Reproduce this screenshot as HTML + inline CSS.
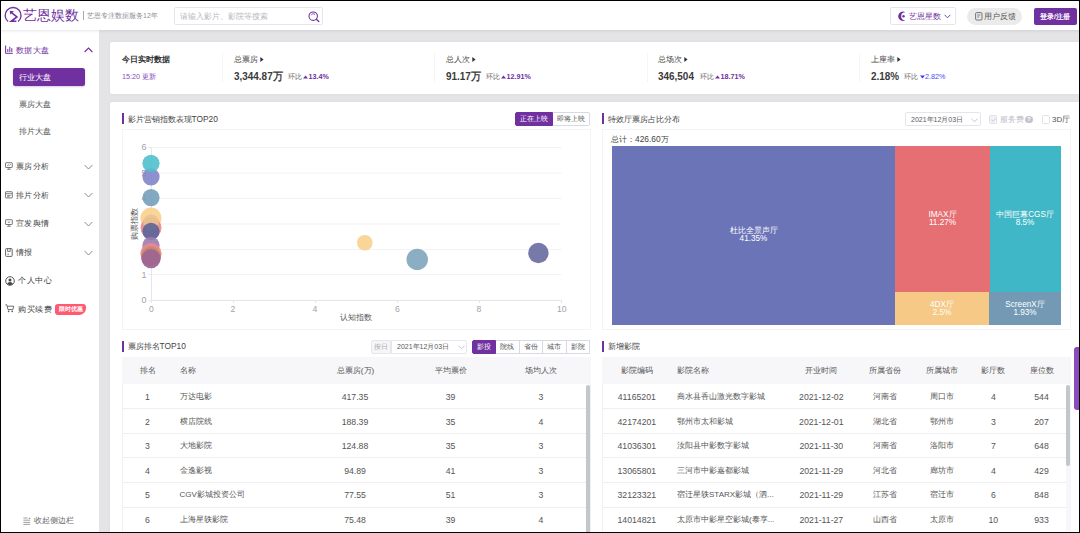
<!DOCTYPE html>
<html lang="zh">
<head>
<meta charset="utf-8">
<title>艺恩娱数</title>
<style>
*{box-sizing:border-box;margin:0;padding:0}
html,body{width:1080px;height:533px;overflow:hidden;background:#e4e4e6;font-family:"Liberation Sans",sans-serif;color:#444}
#app{position:absolute;left:0;top:0;width:1080px;height:533px;overflow:hidden;background:#e4e4e6}
.a{position:absolute}
.t{position:absolute;white-space:nowrap;line-height:12px;height:12px;font-size:8.5px;color:#555}
.c{transform:translateX(-50%);text-align:center}
.p{color:#7030a0}
.w{background:#fff}
.bar{position:absolute;width:2px;height:11px;background:#7030a0}
svg{position:absolute;overflow:visible}
.hl{position:absolute;height:1px;background:#efeff1}
.btn{position:absolute;height:13.5px;border:1px solid #d6d9e6;background:#fff;font-size:7px;line-height:11.5px;text-align:center;color:#555;white-space:nowrap;overflow:hidden}
.btn.on{background:#7030a0;border-color:#7030a0;color:#fff}
</style>
</head>
<body>
<div id="app">

<!-- HEADER -->
<div class="a w" id="sidebar" style="left:0;top:30px;width:99px;height:502px"></div>
<div class="a w" id="header" style="left:0;top:0;width:1080px;height:30px;box-shadow:0 1px 3px rgba(60,60,110,.13)"></div>
<svg style="left:4px;top:6px" width="19" height="17" viewBox="0 0 19 17"><path d="M4.1 15.6 A7.95 7.95 0 1 1 14.1 15.6" fill="none" stroke="#7030a0" stroke-width="1.35"/><path d="M7.6 6.7 L12.9 11 L7.2 15.3 H12.4" fill="none" stroke="#7030a0" stroke-width="1.6" stroke-linejoin="miter"/><path d="M5.7 4.8 L10 5.3 L6.3 8.5Z" fill="#7030a0"/></svg>
<div class="t p" id="logo" style="left:23px;top:6px;font-size:14px;line-height:18px;height:18px;letter-spacing:0">艺恩娱数</div>
<div class="a" style="left:83px;top:11px;width:1px;height:9px;background:#aaa"></div>
<div class="t" style="left:87px;top:9.5px;font-size:7px;color:#8e8e94">艺恩专注数据服务12年</div>

<div class="a w" id="search" style="left:174px;top:7.3px;width:149px;height:18px;border:1px solid #e6e6ec;border-radius:2px"></div>
<div class="t" style="left:180px;top:10.5px;font-size:7.5px;color:#b8b8be">请输入影片、影院等搜索</div>
<svg style="left:308px;top:11px" width="12" height="12" viewBox="0 0 12 12"><circle cx="5.2" cy="5.2" r="4.2" fill="none" stroke="#7030a0" stroke-width="1.1"/><path d="M8.3 8.3 L10.8 10.6" stroke="#7030a0" stroke-width="1.3" stroke-linecap="round"/><path d="M3.2 4 A2.6 2.6 0 0 1 7 3.4" fill="none" stroke="#7030a0" stroke-width=".8"/></svg>

<div class="a w" style="left:889.5px;top:6.8px;width:66px;height:18.5px;border:1px solid #e6e6ec;border-radius:2px"></div>
<svg style="left:896.8px;top:11px" width="10.5" height="10.5" viewBox="0 0 10 10"><path d="M7.9 1.1 A4.5 4.5 0 1 0 7.9 8.9 A3.7 3.7 0 1 1 7.9 1.1Z" fill="#7030a0"/><circle cx="6.2" cy="5" r="1.15" fill="#7030a0"/></svg>
<div class="t p" style="left:909px;top:10.5px;font-size:8px">艺恩星数</div>
<svg style="left:944px;top:14px" width="7" height="5" viewBox="0 0 7 5"><path d="M.6 .8 L3.5 3.8 L6.4 .8" fill="none" stroke="#7030a0" stroke-width=".9"/></svg>

<div class="a" style="left:967px;top:8px;width:55px;height:16.5px;border-radius:9px;background:#ebebeb"></div>
<svg style="left:975px;top:11.5px" width="8" height="9" viewBox="0 0 8 9"><rect x=".6" y=".6" width="6.4" height="7.4" rx="1" fill="none" stroke="#666" stroke-width=".9"/><path d="M2.2 3 H5.4 M2.2 5 H4.2" stroke="#666" stroke-width=".8"/></svg>
<div class="t" style="left:984px;top:10.5px;font-size:7.8px;color:#555">用户反馈</div>

<div class="a" style="left:1034px;top:8px;width:42.5px;height:16.5px;border-radius:2px;background:#7030a0"></div>
<div class="t c" style="left:1055px;top:10.5px;font-size:7px;color:#fff;font-weight:bold">登录/注册</div>

<!-- SIDEBAR -->

<svg style="left:4.7px;top:44.6px" width="8" height="9" viewBox="0 0 8 9"><path d="M.6 .5 V8.3 H7.8 M2.8 7 V4 M4.8 7 V1.8 M6.8 7 V3.2" fill="none" stroke="#7030a0" stroke-width="1"/></svg>
<div class="t p" style="left:15.5px;top:43.5px;font-size:8.4px;letter-spacing:.5px">数据大盘</div>
<svg style="left:84px;top:46.5px" width="9" height="6" viewBox="0 0 9 6"><path d="M.6 5 L4.5 1 L8.4 5" fill="none" stroke="#7030a0" stroke-width="1.1"/></svg>

<div class="a" style="left:13px;top:68px;width:72px;height:18px;border-radius:2.5px;background:#7030a0;box-shadow:0 1px 2px rgba(112,48,160,.25)"></div>
<div class="t" style="left:19px;top:72px;font-size:8.2px;color:#fff">行业大盘</div>
<div class="t" style="left:19px;top:99px;font-size:8.2px;color:#555">票房大盘</div>
<div class="t" style="left:19px;top:126px;font-size:8.2px;color:#555">排片大盘</div>

<!-- group items -->
<svg style="left:5px;top:162px" width="8" height="8" viewBox="0 0 9 9"><rect x=".6" y=".8" width="7.6" height="5.4" rx=".6" fill="none" stroke="#555" stroke-width=".9"/><path d="M2.4 8.2 H6.6 M4.4 6.2 V8 M2.4 4.4 L3.8 3.2 L4.8 4 L6.4 2.4" fill="none" stroke="#555" stroke-width=".8"/></svg>
<div class="t" style="left:15.5px;top:160px;font-size:8.4px;letter-spacing:.5px;color:#444">票房分析</div>
<svg style="left:84px;top:163.5px" width="9" height="6" viewBox="0 0 9 6"><path d="M.6 1 L4.5 5 L8.4 1" fill="none" stroke="#8b8b94" stroke-width="1"/></svg>

<svg style="left:5px;top:190.5px" width="8" height="8" viewBox="0 0 9 9"><rect x=".6" y=".8" width="7.6" height="7" rx=".6" fill="none" stroke="#555" stroke-width=".9"/><path d="M.8 3 H8 M2.4 5 H6.4 M2.4 6.4 H5" fill="none" stroke="#555" stroke-width=".8"/></svg>
<div class="t" style="left:15.5px;top:188.5px;font-size:8.4px;letter-spacing:.5px;color:#444">排片分析</div>
<svg style="left:84px;top:192px" width="9" height="6" viewBox="0 0 9 6"><path d="M.6 1 L4.5 5 L8.4 1" fill="none" stroke="#8b8b94" stroke-width="1"/></svg>

<svg style="left:5px;top:219px" width="8" height="8" viewBox="0 0 9 9"><rect x=".6" y=".8" width="7.6" height="5.4" rx=".6" fill="none" stroke="#555" stroke-width=".9"/><path d="M2.4 8.2 H6.6 M4.4 6.2 V8 M3 3.6 H5.8" fill="none" stroke="#555" stroke-width=".8"/></svg>
<div class="t" style="left:15.5px;top:217px;font-size:8.4px;letter-spacing:.5px;color:#444">宣发舆情</div>
<svg style="left:84px;top:220.5px" width="9" height="6" viewBox="0 0 9 6"><path d="M.6 1 L4.5 5 L8.4 1" fill="none" stroke="#8b8b94" stroke-width="1"/></svg>

<svg style="left:5px;top:247.5px" width="8" height="9" viewBox="0 0 8 9"><rect x=".6" y=".6" width="6.6" height="7.8" rx=".8" fill="none" stroke="#555" stroke-width=".9"/><path d="M2.6 .8 V3.4 H5.2 V.8 M2.4 6.2 H4" fill="none" stroke="#555" stroke-width=".8"/></svg>
<div class="t" style="left:15.5px;top:246px;font-size:8.4px;letter-spacing:.5px;color:#444">情报</div>
<svg style="left:84px;top:249.5px" width="9" height="6" viewBox="0 0 9 6"><path d="M.6 1 L4.5 5 L8.4 1" fill="none" stroke="#8b8b94" stroke-width="1"/></svg>

<svg style="left:4.5px;top:275.5px" width="10" height="10" viewBox="0 0 10 10"><circle cx="5" cy="5" r="4.3" fill="none" stroke="#444" stroke-width=".9"/><circle cx="5" cy="3.9" r="1.5" fill="#444"/><path d="M2.2 7.8 A3 3 0 0 1 7.8 7.8 A4 4 0 0 1 2.2 7.8Z" fill="#444"/></svg>
<div class="t" style="left:18px;top:274px;font-size:8.4px;letter-spacing:.5px;color:#444">个人中心</div>

<svg style="left:4.5px;top:304px" width="10" height="9" viewBox="0 0 10 9"><path d="M.4 .8 H1.8 L3 5.6 H7.8 L8.8 2.2 H2.4" fill="none" stroke="#555" stroke-width=".85"/><circle cx="3.6" cy="7.4" r=".8" fill="#555"/><circle cx="7.2" cy="7.4" r=".8" fill="#555"/></svg>
<div class="t" style="left:18px;top:303px;font-size:8.4px;letter-spacing:.5px;color:#444">购买续费</div>
<div class="a" style="left:55px;top:304px;width:31px;height:11px;background:#ff5a70;border-radius:3px 3px 7px 3px"></div>
<div class="t c" style="left:70.5px;top:304px;font-size:6px;line-height:11px;height:11px;color:#fff;font-weight:bold">限时优惠</div>

<svg style="left:23px;top:516.5px" width="8" height="8" viewBox="0 0 8 8"><path d="M.4 1 H4.6 M.4 3.2 H7.2 M.4 5.4 H7.2 M.4 7.4 H7.2" stroke="#777" stroke-width=".7"/><path d="M5.6 2 L7.2 .3 V2Z" fill="#777"/></svg>
<div class="t" style="left:34px;top:514.5px;font-size:8px;color:#6a6a6a">收起侧边栏</div>

<!-- TOP STATS CARD -->
<div class="a w" id="stats" style="left:110px;top:41.5px;width:970px;height:52px;box-shadow:0 0 2px rgba(90,80,120,.10);border-radius:2px 0 0 2px"></div>
<div class="t" style="left:122px;top:53px;font-size:8.4px;color:#333;font-weight:bold">今日实时数据</div>
<div class="t p" style="left:122px;top:70.5px;font-size:7.2px;color:#8a4bb8">15:20 更新</div>

<div class="a" style="left:221.5px;top:53px;width:1px;height:29px;background:#f5f5f7"></div>
<div class="t" style="left:234px;top:53px;font-size:8.4px;color:#444">总票房</div>
<svg style="left:260px;top:56.5px" width="4" height="5" viewBox="0 0 4 5"><path d="M.3 0 L3.6 2.5 L.3 5Z" fill="#333"/></svg>
<div class="t" style="left:234px;top:69.5px;font-size:10.8px;line-height:13px;height:13px;color:#3a3a3a;font-weight:bold;transform:scaleX(.92);transform-origin:0 50%">3,344.87万</div>
<div class="t" style="left:288px;top:70.5px;font-size:7px;color:#666">环比</div>
<svg style="left:303px;top:74.5px" width="5" height="4" viewBox="0 0 5 4"><path d="M0 3.6 L2.5 .4 L5 3.6Z" fill="#7030a0"/></svg>
<div class="t p" style="left:308.5px;top:70.5px;font-size:7.2px;font-weight:bold">13.4%</div>

<div class="a" style="left:434px;top:53px;width:1px;height:29px;background:#f5f5f7"></div>
<div class="t" style="left:446px;top:53px;font-size:8.4px;color:#444">总人次</div>
<svg style="left:472px;top:56.5px" width="4" height="5" viewBox="0 0 4 5"><path d="M.3 0 L3.6 2.5 L.3 5Z" fill="#333"/></svg>
<div class="t" style="left:446px;top:69.5px;font-size:10.8px;line-height:13px;height:13px;color:#3a3a3a;font-weight:bold;transform:scaleX(.92);transform-origin:0 50%">91.17万</div>
<div class="t" style="left:486px;top:70.5px;font-size:7px;color:#666">环比</div>
<svg style="left:501px;top:74.5px" width="5" height="4" viewBox="0 0 5 4"><path d="M0 3.6 L2.5 .4 L5 3.6Z" fill="#7030a0"/></svg>
<div class="t p" style="left:506.5px;top:70.5px;font-size:7.2px;font-weight:bold">12.91%</div>

<div class="a" style="left:646.5px;top:53px;width:1px;height:29px;background:#f5f5f7"></div>
<div class="t" style="left:658px;top:53px;font-size:8.4px;color:#444">总场次</div>
<svg style="left:684px;top:56.5px" width="4" height="5" viewBox="0 0 4 5"><path d="M.3 0 L3.6 2.5 L.3 5Z" fill="#333"/></svg>
<div class="t" style="left:658px;top:69.5px;font-size:10.8px;line-height:13px;height:13px;color:#3a3a3a;font-weight:bold;transform:scaleX(.92);transform-origin:0 50%">346,504</div>
<div class="t" style="left:700px;top:70.5px;font-size:7px;color:#666">环比</div>
<svg style="left:715px;top:74.5px" width="5" height="4" viewBox="0 0 5 4"><path d="M0 3.6 L2.5 .4 L5 3.6Z" fill="#7030a0"/></svg>
<div class="t p" style="left:720.5px;top:70.5px;font-size:7.2px;font-weight:bold">18.71%</div>

<div class="a" style="left:858.5px;top:53px;width:1px;height:29px;background:#f5f5f7"></div>
<div class="t" style="left:871px;top:53px;font-size:8.4px;color:#444">上座率</div>
<svg style="left:897px;top:56.5px" width="4" height="5" viewBox="0 0 4 5"><path d="M.3 0 L3.6 2.5 L.3 5Z" fill="#333"/></svg>
<div class="t" style="left:871px;top:69.5px;font-size:10.8px;line-height:13px;height:13px;color:#3a3a3a;font-weight:bold;transform:scaleX(.92);transform-origin:0 50%">2.18%</div>
<div class="t" style="left:904px;top:70.5px;font-size:7px;color:#666">环比</div>
<svg style="left:919.5px;top:74.5px" width="5" height="4" viewBox="0 0 5 4"><path d="M0 .4 L2.5 3.6 L5 .4Z" fill="#3b3bf0"/></svg>
<div class="t" style="left:925px;top:70.5px;font-size:7.2px;color:#4a4af5">2.82%</div>

<!-- MAIN PANEL -->
<div class="a w" id="main" style="left:110px;top:102.3px;width:970px;height:431px;box-shadow:0 0 2px rgba(90,80,120,.10);border-radius:2px 0 0 0"></div>

<!-- scatter chart -->
<div class="bar" style="left:121.5px;top:113px"></div>
<div class="t" style="left:127.5px;top:112.5px;font-size:8.4px;color:#444">影片营销指数表现TOP20</div>
<div class="btn on" style="left:515px;top:112.4px;width:38px;border-radius:2px 0 0 2px">正在上映</div>
<div class="btn" style="left:553px;top:112.4px;width:36.7px;border-left:none;border-radius:0 2px 2px 0">即将上映</div>
<div class="a" id="scatterbox" style="left:122px;top:129px;width:469px;height:200.5px;border:1px solid #f4f4f6"></div>
<svg id="scatter" style="left:0;top:0" width="1080" height="533" viewBox="0 0 1080 533">
<g stroke="#f3f3f6" stroke-width="1" fill="none">
<path d="M151 147.5 H561.5 M151 173 H561.5 M151 198.5 H561.5 M151 224 H561.5 M151 249.5 H561.5 M151 274.5 H561.5"/>
</g>
<g stroke="#e6e6ea" stroke-width="1" fill="none"><path d="M151.5 147 V300.5 H561.5 M148.5 147.5 H151 M148.5 173 H151 M148.5 198.5 H151 M148.5 224 H151 M148.5 249.5 H151 M148.5 274.5 H151 M148.5 300.5 H151 M151.5 300.5 V303 M233.5 300.5 V303 M315.5 300.5 V303 M397.5 300.5 V303 M479.5 300.5 V303 M561.5 300.5 V303"/></g>
<g font-family="Liberation Sans, sans-serif" font-size="9" fill="#a2a2a8" text-anchor="end">
<text x="146.5" y="150.3">6</text><text x="146.5" y="175.8">5</text><text x="146.5" y="201.3">4</text><text x="146.5" y="226.8">3</text><text x="146.5" y="252.3">2</text><text x="146.5" y="277.5">1</text><text x="146.5" y="303.3">0</text>
</g>
<g font-family="Liberation Sans, sans-serif" font-size="8.6" fill="#a2a2a8" text-anchor="middle">
<text x="151.5" y="312">0</text><text x="233" y="312">2</text><text x="315" y="312">4</text><text x="397.3" y="312">6</text><text x="479" y="312">8</text><text x="561.7" y="312">10</text>
</g>
<g>
<circle cx="151" cy="176.8" r="8.6" fill="#8285c8" fill-opacity=".9"/>
<circle cx="151" cy="163.3" r="8.6" fill="#4fc0cc" fill-opacity=".9"/>
<circle cx="151" cy="197.6" r="8.6" fill="#759fba" fill-opacity=".9"/>
<circle cx="151" cy="218.2" r="10.6" fill="#f8d08c" fill-opacity=".9"/>
<circle cx="151" cy="227.8" r="10.5" fill="#ec7f82" fill-opacity=".85"/>
<circle cx="151" cy="222.5" r="8" fill="#e9c391" fill-opacity=".9"/>
<circle cx="151" cy="231.3" r="8.6" fill="#5b6499" fill-opacity=".9"/>
<circle cx="151" cy="245.3" r="8.6" fill="#9b7bb0" fill-opacity=".9"/>
<circle cx="151" cy="253.6" r="10.6" fill="#e88a95" fill-opacity=".9"/>
<circle cx="151" cy="256.5" r="10" fill="#c48a5e" fill-opacity=".9"/>
<circle cx="151" cy="258.7" r="9.6" fill="#9c6595" fill-opacity=".92"/>
<circle cx="364.8" cy="242.7" r="7.8" fill="#f8d08c" fill-opacity=".9"/>
<circle cx="417.2" cy="259.4" r="10.7" fill="#7fa5bc" fill-opacity=".9"/>
<circle cx="538.4" cy="253" r="10.2" fill="#686b9f" fill-opacity=".9"/>
</g>
</svg>
<div class="t c" style="left:356px;top:312px;font-size:7.8px;color:#555">认知指数</div>
<div class="t" style="left:134.5px;top:223.5px;font-size:7.8px;color:#555;transform:translate(-50%,-50%) rotate(-90deg)">购票指数</div>

<!-- treemap -->
<div class="bar" style="left:601.5px;top:113px"></div>
<div class="t" style="left:608px;top:112.5px;font-size:8.4px;color:#444">特效厅票房占比分布</div>

<div class="a w" style="left:905px;top:112.3px;width:75.5px;height:13.7px;border:1px solid #e4e4ea;border-radius:2px"></div>
<div class="t" style="left:911px;top:113.5px;font-size:7px;color:#5a5a5a">2021年12月03日</div>
<svg style="left:970.5px;top:117.5px" width="7" height="5" viewBox="0 0 7 5"><path d="M.5 .7 L3.5 3.8 L6.5 .7" fill="none" stroke="#c0c0c8" stroke-width=".9"/></svg>

<div class="a" style="left:988.8px;top:115.2px;width:8.5px;height:8.5px;border:1px solid #e0e0e8;border-radius:1.5px;background:#f3f3f7"></div>
<svg style="left:990.5px;top:117.5px" width="5" height="4" viewBox="0 0 5 4"><path d="M.5 2 L2 3.4 L4.6 .5" fill="none" stroke="#c4c4cc" stroke-width=".9"/></svg>
<div class="t" style="left:999.5px;top:113.5px;font-size:7.8px;color:#c0c0c8">服务费</div>
<div class="a" style="left:1025px;top:115.5px;width:7.5px;height:7.5px;border-radius:4px;background:#c4c4cc"></div>
<div class="t c" style="left:1028.8px;top:113.3px;font-size:6px;color:#fff;font-weight:bold">?</div>
<div class="a w" style="left:1041.7px;top:115.2px;width:8.5px;height:8.5px;border:1px solid #e0e0e8;border-radius:1.5px"></div>
<div class="t" style="left:1052px;top:113.5px;font-size:8px;color:#555">3D厅</div>

<div class="a" id="treebox" style="left:602px;top:129px;width:469px;height:200.5px;border:1px solid #f4f4f6"></div>
<div class="t" style="left:611px;top:133px;font-size:8.4px;color:#444">总计：426.60万</div>
<div class="a" style="left:612px;top:146px;width:283px;height:179px;background:#6c74b8"></div>
<div class="a" style="left:895px;top:146px;width:94.5px;height:146px;background:#e66f74"></div>
<div class="a" style="left:989.5px;top:146px;width:71.5px;height:146px;background:#3fb7c6"></div>
<div class="a" style="left:895px;top:292px;width:94px;height:33px;background:#f6c986"></div>
<div class="a" style="left:989px;top:292px;width:72px;height:33px;background:#7399b5"></div>
<div class="t c" style="left:753.5px;top:226.5px;font-size:8.2px;line-height:8.2px;height:17px;color:#fff">杜比全景声厅<br>41.35%</div>
<div class="t c" style="left:942.5px;top:210.5px;font-size:8.2px;line-height:8.2px;height:17px;color:#fff">IMAX厅<br>11.27%</div>
<div class="t c" style="left:1025px;top:210.5px;font-size:8.2px;line-height:8.2px;height:17px;color:#fff">中国巨幕CGS厅<br>8.5%</div>
<div class="t c" style="left:942px;top:300.5px;font-size:8.2px;line-height:8.2px;height:17px;color:#fff">4DX厅<br>2.5%</div>
<div class="t c" style="left:1025px;top:300.5px;font-size:8.2px;line-height:8.2px;height:17px;color:#fff">ScreenX厅<br>1.93%</div>

<!-- LEFT TABLE -->
<div class="bar" style="left:121.5px;top:340.5px"></div>
<div class="t" style="left:127.5px;top:340px;font-size:8.4px;color:#444">票房排名TOP10</div>

<div class="btn" style="left:370.5px;top:340.2px;width:20.5px;background:#f6f6f8;color:#aaa;border-color:#e6e6ec;border-radius:2px 0 0 2px">按日</div>
<div class="btn" style="left:390.5px;top:340.2px;width:76px;border-color:#e6e6ec;border-radius:0 2px 2px 0"></div>
<div class="t" style="left:397px;top:341px;font-size:7px;color:#5a5a5a">2021年12月03日</div>
<svg style="left:457.5px;top:345px" width="7" height="5" viewBox="0 0 7 5"><path d="M.5 .7 L3.5 3.8 L6.5 .7" fill="none" stroke="#c0c0c8" stroke-width=".9"/></svg>
<div class="btn on" style="left:472px;top:340.2px;width:24px;border-radius:2px 0 0 2px">影投</div>
<div class="btn" style="left:496px;top:340.2px;width:23.5px;border-left:none">院线</div>
<div class="btn" style="left:519.5px;top:340.2px;width:23.5px;border-left:none">省份</div>
<div class="btn" style="left:543px;top:340.2px;width:23.5px;border-left:none">城市</div>
<div class="btn" style="left:566.5px;top:340.2px;width:23.5px;border-left:none">影院</div>

<div class="a" id="ltable" style="left:122px;top:357.5px;width:469px;height:176px;border-left:1px solid #f0f0f2;border-right:1px solid #f0f0f2"></div>
<div class="a" style="left:122px;top:357.2px;width:469px;height:27.3px;background:#f7f7f9"></div>
<div class="t c" style="left:147.5px;top:365px;font-size:8px;color:#555">排名</div>
<div class="t" style="left:179.5px;top:365px;font-size:8px;color:#555">名称</div>
<div class="t c" style="left:355.5px;top:365px;font-size:8px;color:#555">总票房(万)</div>
<div class="t c" style="left:450.5px;top:365px;font-size:8px;color:#555">平均票价</div>
<div class="t c" style="left:540.8px;top:365px;font-size:8px;color:#555">场均人次</div>

<div class="hl" style="left:122px;top:408px;width:464px"></div>
<div class="hl" style="left:122px;top:433px;width:464px"></div>
<div class="hl" style="left:122px;top:457px;width:464px"></div>
<div class="hl" style="left:122px;top:482px;width:464px"></div>
<div class="hl" style="left:122px;top:507px;width:464px"></div>
<div class="a" style="left:586px;top:384.5px;width:3.5px;height:150px;background:#c3c6ca;border-radius:2px 2px 0 0"></div>

<div class="t c" style="left:147.5px;top:391px;font-size:8.7px">1</div><div class="t" style="left:179.5px;top:391px;font-size:8px">万达电影</div><div class="t c" style="left:355px;top:391px;font-size:8.7px">417.35</div><div class="t c" style="left:450.5px;top:391px;font-size:8.7px">39</div><div class="t c" style="left:540.8px;top:391px;font-size:8.7px">3</div>
<div class="t c" style="left:147.5px;top:416px;font-size:8.7px">2</div><div class="t" style="left:179.5px;top:416px;font-size:8px">横店院线</div><div class="t c" style="left:355px;top:416px;font-size:8.7px">188.39</div><div class="t c" style="left:450.5px;top:416px;font-size:8.7px">35</div><div class="t c" style="left:540.8px;top:416px;font-size:8.7px">4</div>
<div class="t c" style="left:147.5px;top:440px;font-size:8.7px">3</div><div class="t" style="left:179.5px;top:440px;font-size:8px">大地影院</div><div class="t c" style="left:355px;top:440px;font-size:8.7px">124.88</div><div class="t c" style="left:450.5px;top:440px;font-size:8.7px">35</div><div class="t c" style="left:540.8px;top:440px;font-size:8.7px">3</div>
<div class="t c" style="left:147.5px;top:465px;font-size:8.7px">4</div><div class="t" style="left:179.5px;top:465px;font-size:8px">金逸影视</div><div class="t c" style="left:355px;top:465px;font-size:8.7px">94.89</div><div class="t c" style="left:450.5px;top:465px;font-size:8.7px">41</div><div class="t c" style="left:540.8px;top:465px;font-size:8.7px">3</div>
<div class="t c" style="left:147.5px;top:489px;font-size:8.7px">5</div><div class="t" style="left:179.5px;top:489px;font-size:8px">CGV影城投资公司</div><div class="t c" style="left:355px;top:489px;font-size:8.7px">77.55</div><div class="t c" style="left:450.5px;top:489px;font-size:8.7px">51</div><div class="t c" style="left:540.8px;top:489px;font-size:8.7px">3</div>
<div class="t c" style="left:147.5px;top:514px;font-size:8.7px">6</div><div class="t" style="left:179.5px;top:514px;font-size:8px">上海星轶影院</div><div class="t c" style="left:355px;top:514px;font-size:8.7px">75.48</div><div class="t c" style="left:450.5px;top:514px;font-size:8.7px">39</div><div class="t c" style="left:540.8px;top:514px;font-size:8.7px">4</div>

<!-- RIGHT TABLE -->
<div class="bar" style="left:601.5px;top:340.5px"></div>
<div class="t" style="left:608px;top:340px;font-size:8.4px;color:#444">新增影院</div>

<div class="a" id="rtable" style="left:602px;top:357.5px;width:469px;height:176px;border-left:1px solid #f0f0f2;border-right:1px solid #f0f0f2"></div>
<div class="a" style="left:602px;top:357.2px;width:469px;height:27.3px;background:#f7f7f9"></div>
<div class="t c" style="left:636.8px;top:365px;font-size:8px;color:#555">影院编码</div>
<div class="t" style="left:677px;top:365px;font-size:8px;color:#555">影院名称</div>
<div class="t c" style="left:821.3px;top:365px;font-size:8px;color:#555">开业时间</div>
<div class="t c" style="left:884.8px;top:365px;font-size:8px;color:#555">所属省份</div>
<div class="t c" style="left:941.5px;top:365px;font-size:8px;color:#555">所属城市</div>
<div class="t c" style="left:993.3px;top:365px;font-size:8px;color:#555">影厅数</div>
<div class="t c" style="left:1041.5px;top:365px;font-size:8px;color:#555">座位数</div>

<div class="hl" style="left:602px;top:408px;width:464px"></div>
<div class="hl" style="left:602px;top:433px;width:464px"></div>
<div class="hl" style="left:602px;top:457px;width:464px"></div>
<div class="hl" style="left:602px;top:482px;width:464px"></div>
<div class="hl" style="left:602px;top:507px;width:464px"></div>
<div class="a" style="left:1066px;top:384.5px;width:5px;height:146px;background:#f6f6fb"></div>
<div class="a" style="left:1066.2px;top:384.5px;width:3.6px;height:81px;background:#c3c6ca;border-radius:2px"></div>

<div class="t c" style="left:636.8px;top:391px;font-size:8.7px">41165201</div><div class="t" style="left:677px;top:391px;font-size:8px">商水县香山激光数字影城</div><div class="t c" style="left:821.3px;top:391px;font-size:8.7px">2021-12-02</div><div class="t c" style="left:884.8px;top:391px;font-size:8px">河南省</div><div class="t c" style="left:941.5px;top:391px;font-size:8px">周口市</div><div class="t c" style="left:993.3px;top:391px;font-size:8.7px">4</div><div class="t c" style="left:1041.5px;top:391px;font-size:8.7px">544</div>
<div class="t c" style="left:636.8px;top:416px;font-size:8.7px">42174201</div><div class="t" style="left:677px;top:416px;font-size:8px">鄂州市太和影城</div><div class="t c" style="left:821.3px;top:416px;font-size:8.7px">2021-12-01</div><div class="t c" style="left:884.8px;top:416px;font-size:8px">湖北省</div><div class="t c" style="left:941.5px;top:416px;font-size:8px">鄂州市</div><div class="t c" style="left:993.3px;top:416px;font-size:8.7px">3</div><div class="t c" style="left:1041.5px;top:416px;font-size:8.7px">207</div>
<div class="t c" style="left:636.8px;top:440px;font-size:8.7px">41036301</div><div class="t" style="left:677px;top:440px;font-size:8px">汝阳县中影数字影城</div><div class="t c" style="left:821.3px;top:440px;font-size:8.7px">2021-11-30</div><div class="t c" style="left:884.8px;top:440px;font-size:8px">河南省</div><div class="t c" style="left:941.5px;top:440px;font-size:8px">洛阳市</div><div class="t c" style="left:993.3px;top:440px;font-size:8.7px">7</div><div class="t c" style="left:1041.5px;top:440px;font-size:8.7px">648</div>
<div class="t c" style="left:636.8px;top:465px;font-size:8.7px">13065801</div><div class="t" style="left:677px;top:465px;font-size:8px">三河市中影嘉都影城</div><div class="t c" style="left:821.3px;top:465px;font-size:8.7px">2021-11-29</div><div class="t c" style="left:884.8px;top:465px;font-size:8px">河北省</div><div class="t c" style="left:941.5px;top:465px;font-size:8px">廊坊市</div><div class="t c" style="left:993.3px;top:465px;font-size:8.7px">4</div><div class="t c" style="left:1041.5px;top:465px;font-size:8.7px">429</div>
<div class="t c" style="left:636.8px;top:489px;font-size:8.7px">32123321</div><div class="t" style="left:677px;top:489px;font-size:8px">宿迁星轶STARX影城（泗...</div><div class="t c" style="left:821.3px;top:489px;font-size:8.7px">2021-11-29</div><div class="t c" style="left:884.8px;top:489px;font-size:8px">江苏省</div><div class="t c" style="left:941.5px;top:489px;font-size:8px">宿迁市</div><div class="t c" style="left:993.3px;top:489px;font-size:8.7px">6</div><div class="t c" style="left:1041.5px;top:489px;font-size:8.7px">848</div>
<div class="t c" style="left:636.8px;top:514px;font-size:8.7px">14014821</div><div class="t" style="left:677px;top:514px;font-size:8px">太原市中影星空影城(泰享...</div><div class="t c" style="left:821.3px;top:514px;font-size:8.7px">2021-11-27</div><div class="t c" style="left:884.8px;top:514px;font-size:8px">山西省</div><div class="t c" style="left:941.5px;top:514px;font-size:8px">太原市</div><div class="t c" style="left:993.3px;top:514px;font-size:8.7px">10</div><div class="t c" style="left:1041.5px;top:514px;font-size:8.7px">933</div>

<!-- right floating tab -->
<div class="a" style="left:1073.7px;top:347.3px;width:6px;height:62.5px;background:#8a4cbc;border-radius:3px 0 0 3px"></div>

<!-- black frame -->
<div class="a" style="left:0;top:0;width:1080px;height:1px;background:#000"></div>
<div class="a" style="left:0;top:0;width:1px;height:533px;background:#000"></div>
<div class="a" style="left:1079px;top:0;width:1px;height:533px;background:#000"></div>
<div class="a" style="left:0;top:531.7px;width:1080px;height:1.3px;background:#000"></div>
</div>
</body>
</html>
